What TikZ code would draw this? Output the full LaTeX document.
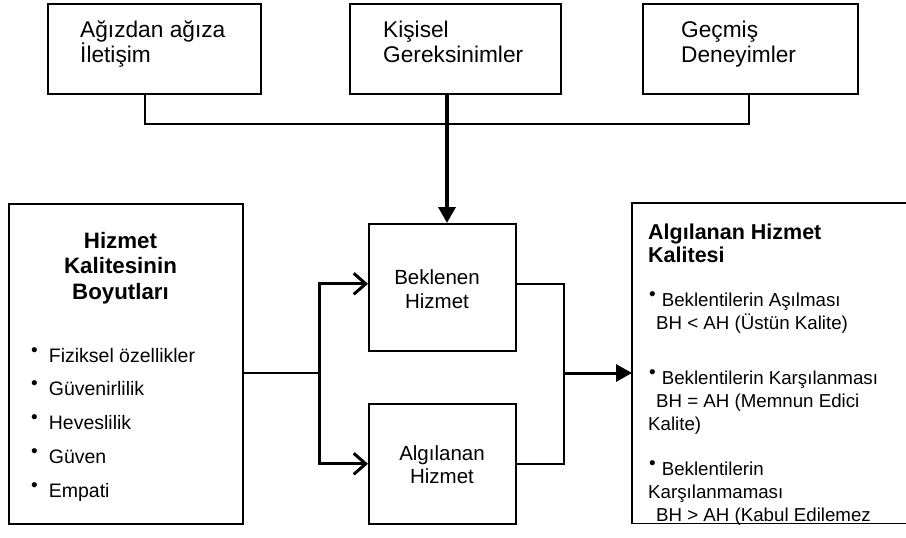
\documentclass[tikz,border=0pt]{standalone}
\usepackage{fontspec}
\setmainfont{Liberation Sans}
\usetikzlibrary{arrows.meta}
\newcommand{\mybul}{\raisebox{0.27em}{\fontsize{19}{19}\selectfont •}}
\begin{document}
\begin{tikzpicture}[x=1pt,y=-1pt,
  box/.style={draw, line width=1.6pt, inner sep=0pt, anchor=north west},
  toptext/.style={font=\fontsize{22.7}{26}\selectfont, anchor=base west, inner sep=0pt},
  midtext/.style={font=\fontsize{20.5}{24}\selectfont, anchor=base, inner sep=0pt},
  headtext/.style={font=\bfseries\fontsize{21.5}{25}\selectfont, inner sep=0pt},
  lefthead/.style={font=\bfseries\fontsize{22.3}{25}\selectfont, inner sep=0pt, anchor=base},
  itemtext/.style={font=\fontsize{19.5}{22}\selectfont, anchor=base west, inner sep=0pt},
  ritemtext/.style={font=\fontsize{18.7}{22}\selectfont, anchor=base west, inner sep=0pt},
  thinline/.style={line width=1.6pt},
  thickline/.style={line width=3.6pt},
  branch/.style={line width=3pt, -{Straight Barb[length=12pt,width=21pt]}},
  fillarrow/.style={-{Triangle[length=16pt,width=17pt]}}
]
\useasboundingbox (0,0) rectangle (906,538);
\fill[white] (0,0) rectangle (906,538);

% top boxes
\node[box, minimum width=213pt, minimum height=90pt] (b1) at (47,3) {};
\node[box, minimum width=211pt, minimum height=90pt] (b2) at (349,3) {};
\node[box, minimum width=215pt, minimum height=90pt] (b3) at (642,3) {};
\node[toptext] (t1a) at (80,37) {Ağızdan ağıza};
\node[toptext] (t1b) at (80,62) {İletişim};
\node[toptext] (t2a) at (383,37) {Kişisel};
\node[toptext] (t2b) at (383,62) {Gereksinimler};
\node[toptext] (t3a) at (681,37) {Geçmiş};
\node[toptext] (t3b) at (681,62) {Deneyimler};

% left box
\node[box, minimum width=234pt, minimum height=320pt] (dims) at (8,203) {};
\node[lefthead] (h1) at (120.5,248) {Hizmet};
\node[lefthead] (h2) at (120.5,273) {Kalitesinin};
\node[lefthead] (h3) at (120.5,299) {Boyutları};
\node[itemtext] (i1) at (31,362) {\mybul\hspace{11pt}Fiziksel özellikler};
\node[itemtext] (i2) at (31,395) {\mybul\hspace{11pt}Güvenirlilik};
\node[itemtext] (i3) at (31,429) {\mybul\hspace{11pt}Heveslilik};
\node[itemtext] (i4) at (31,463) {\mybul\hspace{11pt}Güven};
\node[itemtext] (i5) at (31,497) {\mybul\hspace{11pt}Empati};

% middle boxes
\node[box, minimum width=147pt, minimum height=127pt] (bek) at (368,223) {};
\node[box, minimum width=147pt, minimum height=120pt] (alg) at (368,403) {};
\node[midtext] (m1a) at (437,284) {Beklenen};
\node[midtext] (m1b) at (437,308) {Hizmet};
\node[midtext] (m2a) at (442,460) {Algılanan};
\node[midtext] (m2b) at (442,483) {Hizmet};

% right box (open on the right, cut by the page)
\node[inner sep=0pt, anchor=north west, minimum width=274pt, minimum height=320pt] (qual) at (632,203) {};
\draw[thinline] (qual.north east) -- (qual.north west) -- (qual.south west) -- (qual.south east);
\node[headtext, anchor=base west] (q1) at (648,239) {Algılanan Hizmet};
\node[headtext, anchor=base west] (q2) at (648,262) {Kalitesi};
\node[ritemtext] (r1) at (649,306) {\mybul\hspace{6pt}Beklentilerin Aşılması};
\node[ritemtext] (r2) at (656,329) {BH < AH (Üstün Kalite)};
\node[ritemtext] (r3) at (649,384) {\mybul\hspace{6pt}Beklentilerin Karşılanması};
\node[ritemtext] (r4) at (656,407) {BH = AH (Memnun Edici};
\node[ritemtext] (r5) at (648,430) {Kalite)};
\node[ritemtext] (r6) at (649,475) {\mybul\hspace{6pt}Beklentilerin};
\node[ritemtext] (r7) at (648,498) {Karşılanmaması};
\node[ritemtext] (r8) at (656,521) {BH > AH (Kabul Edilemez};

% connectors on top
\coordinate (hl) at (145,124);
\coordinate (hr) at (749,124);
\coordinate (vx) at (447,124);
\draw[thinline] (b1.south -| hl) -- (hl) -- (hr) -- (b3.south -| hr);
\draw[thickline, fillarrow] (b2.south -| vx) -- (bek.north -| vx);

% left split
\coordinate (sp) at (319,373);
\draw[thinline] (dims.east |- sp) -- (sp);
\draw[branch] (sp) |- ([yshift=3.5pt]bek.west);
\draw[branch] (sp) |- (alg.west);

% right merge
\coordinate (mx) at (564,373);
\draw[thinline] ([yshift=3.5pt]bek.east) -| (mx) |- (alg.east);
\draw[line width=3pt, fillarrow] (mx) -- (qual.west |- mx);
\end{tikzpicture}
\end{document}
